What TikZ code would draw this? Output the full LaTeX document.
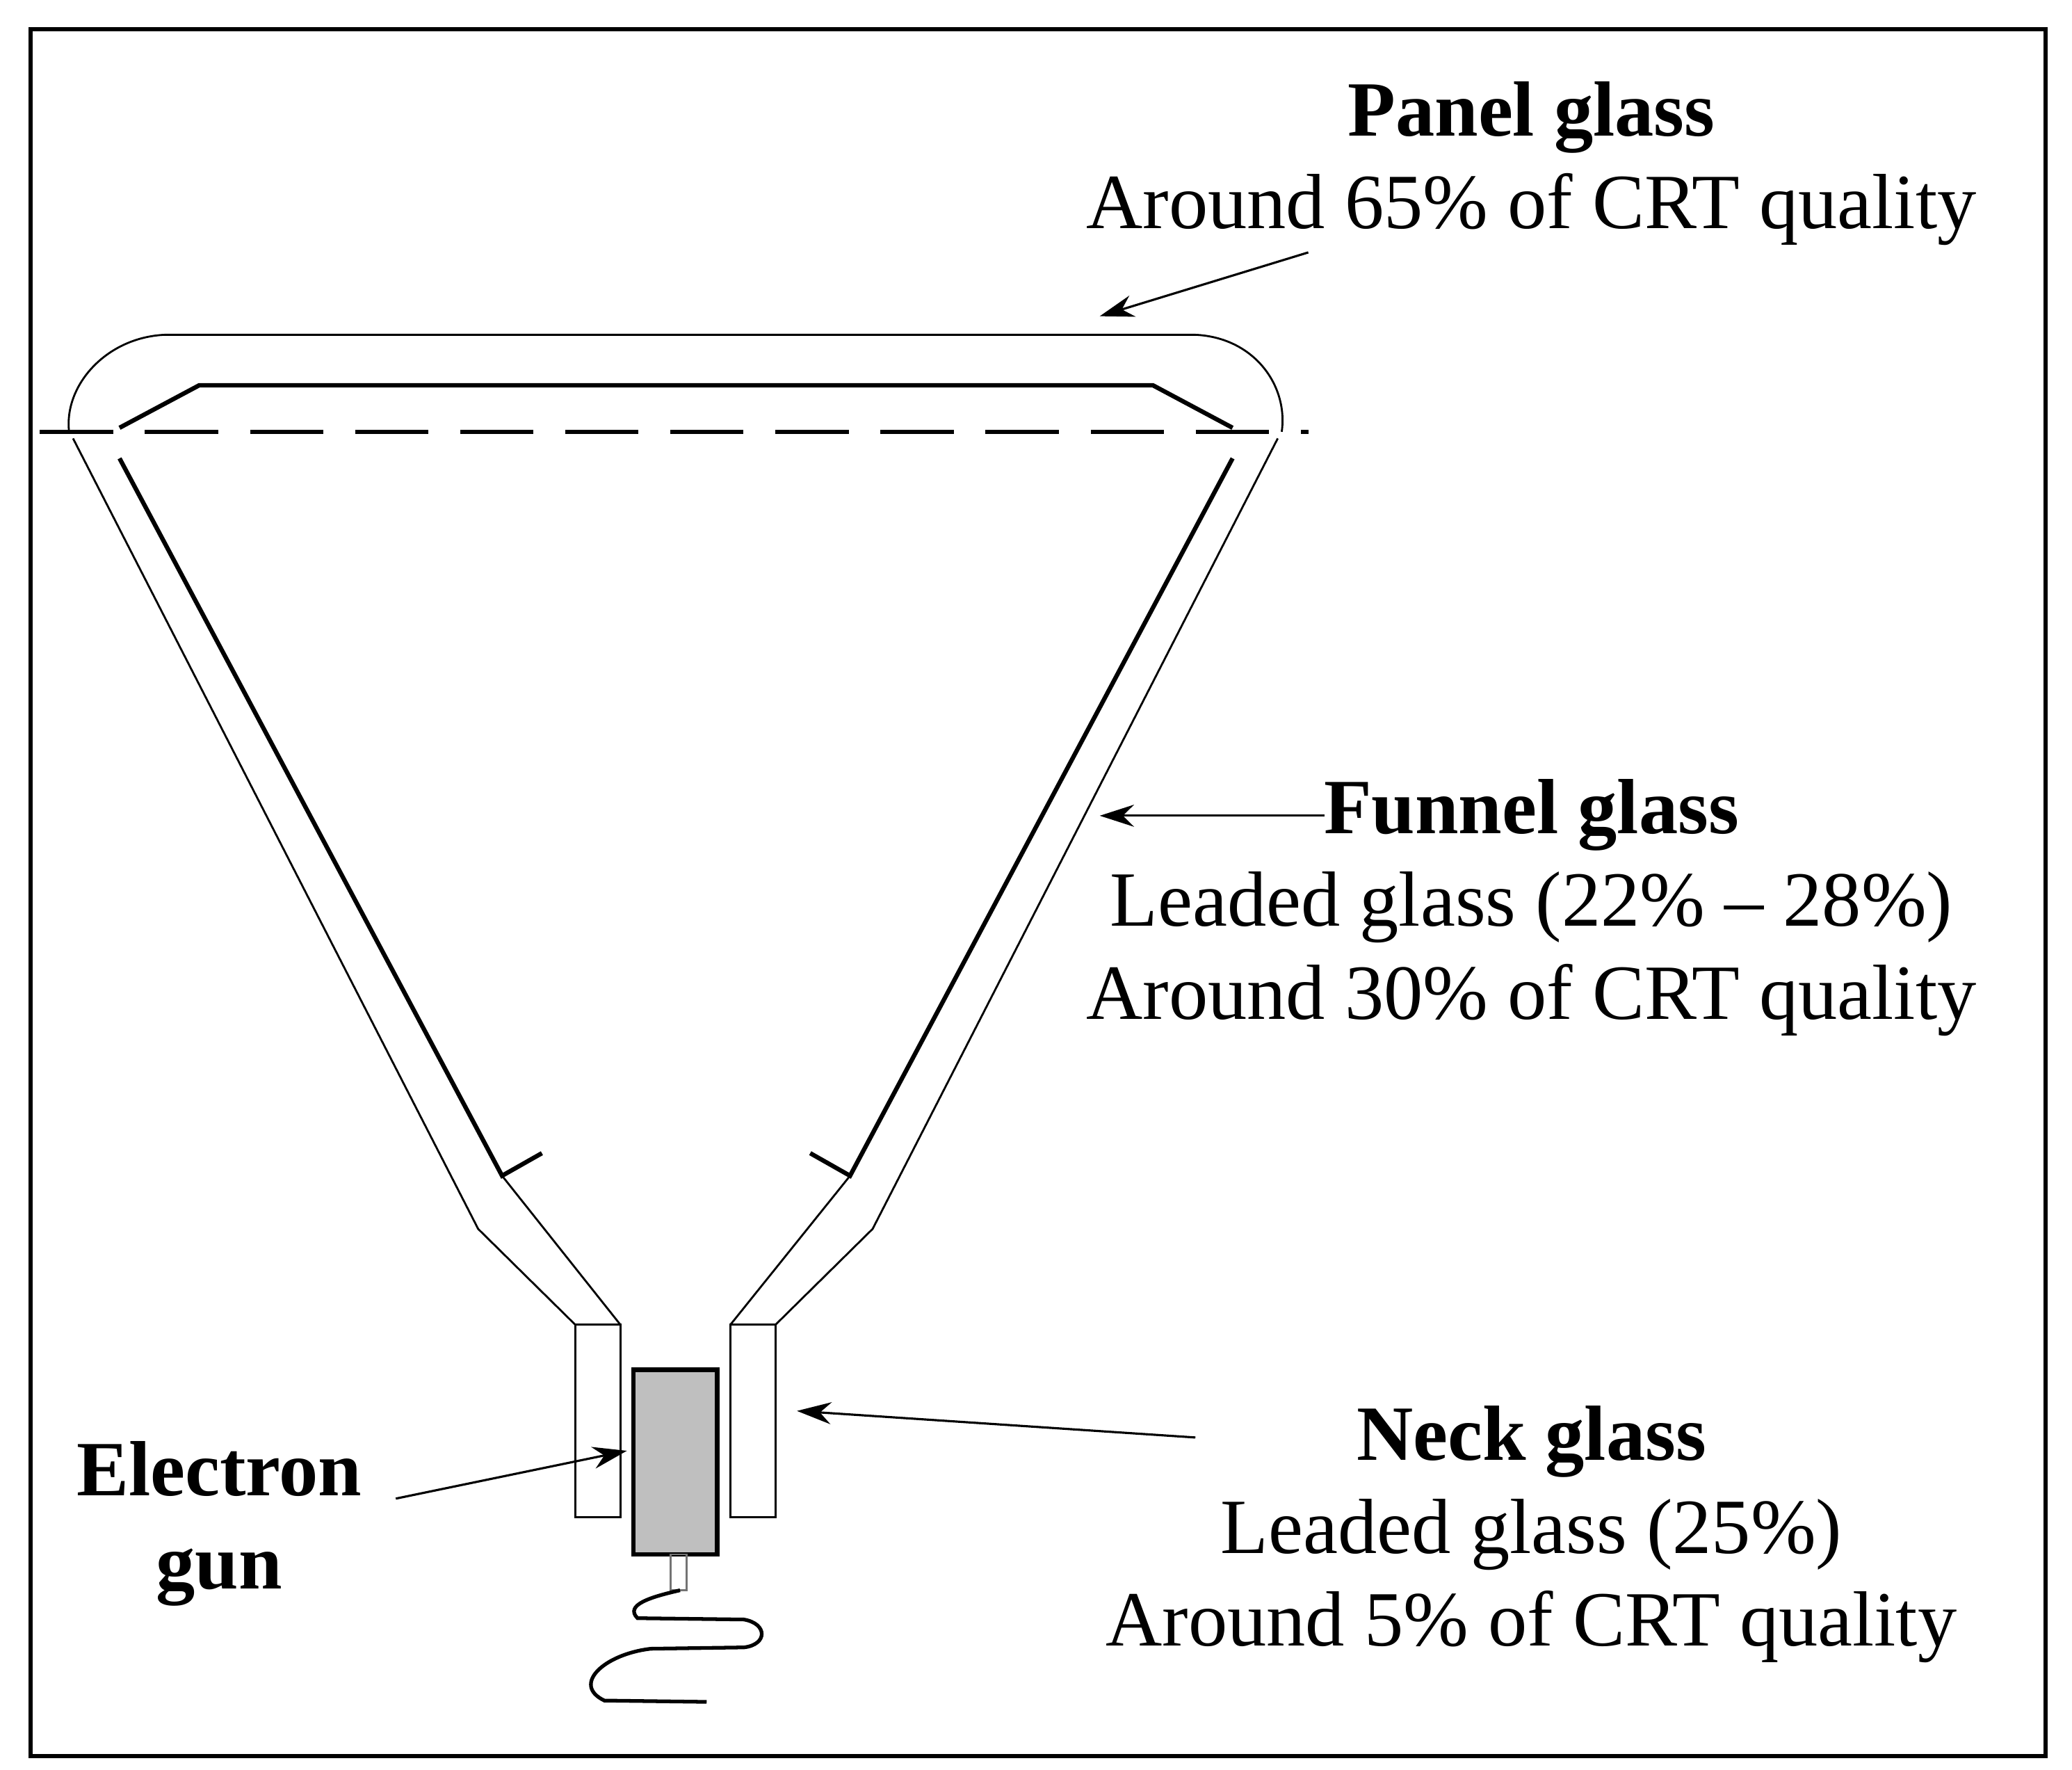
\documentclass[tikz,border=0pt]{standalone}
\usepackage{fontspec}
\setmainfont{Liberation Serif}
\usetikzlibrary{arrows.meta}
\tikzset{
  wall/.style={line width=0.8pt},
  coat/.style={line width=1.8pt},
  lbl/.style={align=center,font=\fontsize{32}{38}\selectfont,inner sep=0pt},
  pointer/.style={line width=0.9pt,-{Stealth[length=14pt,width=9pt]}}
}
\begin{document}
\begin{tikzpicture}[x=0.019103cm,y=-0.019103cm]
    \useasboundingbox (0,0) rectangle (1560,1332);
    % frame
    \draw[line width=1.7pt] (23,22) rectangle (1540,1322);
    % panel
    \draw[wall] (52,325) .. controls (48,290) and (80,254) .. (124,252) -- (900,252)
        .. controls (944,254) and (970,290) .. (965,325);
    \draw[coat] (90,322) -- (150,290) -- (868,290) -- (928,322);
    \draw[line width=1.6pt,dash pattern=on 30pt off 13pt] (30,325) -- (985,325);
    % funnel walls
    \draw[wall] (55,330) -- (360,925) -- (433,997);
    \draw[wall] (962,330) -- (657,925) -- (584,997);
    \draw[coat] (90,345) -- (378,885) -- (408,868);
    \draw[coat] (928,345) -- (640,885) -- (610,868);
    \draw[wall] (378,885) -- (467,997);
    \draw[wall] (640,885) -- (550,997);
    % neck
    \draw[wall] (433,997) rectangle (467,1142);
    \draw[wall] (550,997) rectangle (584,1142);
    % electron gun
    \draw[line width=1.8pt,fill=black!25] (477,1031) rectangle (540,1170);
    \draw[line width=0.8pt,draw=black!55] (505,1170) rectangle (517,1197);
    \draw[line width=1.5pt] (512,1197) .. controls (490,1202) and (470,1208) .. (480,1218)
        -- (560,1219) .. controls (578,1222) and (578,1238) .. (560,1240) -- (490,1241)
        .. controls (455,1245) and (430,1268) .. (455,1280) -- (532,1281);
    % labels
    \node[lbl] (panel) at (1153,123) {\textbf{Panel glass}\\Around 65\% of CRT quality};
    \node[lbl] (funnel) at (1153,683) {\textbf{Funnel glass}\\Leaded glass (22\% -- 28\%)\\Around 30\% of CRT quality};
    \node[lbl] (neck) at (1153,1155) {\textbf{Neck glass}\\Leaded glass (25\%)\\Around 5\% of CRT quality};
    \node[lbl] (gun) at (165,1147) {\textbf{Electron}\\\textbf{gun}};
    % pointers
    \coordinate (panelTip) at (828,238);
    \coordinate (funnelTip) at (828,614);
    \coordinate (neckTip) at (600,1062);
    \coordinate (gunTip) at (472,1092);
    \draw[pointer] (985,190) -- (panelTip);
    \draw[pointer] (997,614) -- (funnelTip);
    \draw[pointer] (900,1082) -- (neckTip);
    \draw[pointer] (298,1128) -- (gunTip);
\end{tikzpicture}
\end{document}
